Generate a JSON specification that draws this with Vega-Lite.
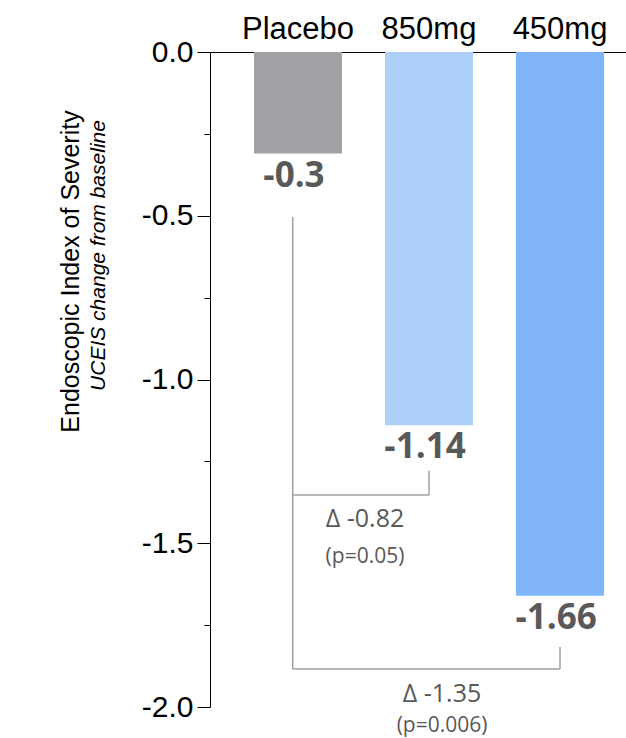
{
  "$schema": "https://vega.github.io/schema/vega-lite/v6.json",
  "autosize": "none",
  "width": 416,
  "height": 655,
  "padding": {"left": 210, "top": 52, "right": 0, "bottom": 31},
  "background": "white",
  "config": {"view": {"stroke": null}},
  "datasets": {
    "bars": [
      {"group": "Placebo", "value": -0.31, "label": "-0.3"},
      {"group": "850mg", "value": -1.14, "label": "-1.14"},
      {"group": "450mg", "value": -1.66, "label": "-1.66"}
    ],
    "hrules": [
      {"group": "Placebo", "to": "850mg", "y": -1.353},
      {"group": "Placebo", "to": "450mg", "y": -1.884}
    ],
    "lrule": [
      {"group": "Placebo", "y1": -0.504, "y2": -1.884}
    ],
    "rrules": [
      {"group": "850mg", "y1": -1.279, "y2": -1.353},
      {"group": "450mg", "y1": -1.817, "y2": -1.884}
    ],
    "ann1": [
      {"group": "Placebo", "text": "Δ -0.82", "y": -1.426, "size": 25},
      {"group": "Placebo", "text": "(p=0.05)", "y": -1.542, "size": 21}
    ],
    "ann2": [
      {"group": "850mg", "text": "Δ -1.35", "y": -1.96, "size": 25},
      {"group": "850mg", "text": "(p=0.006)", "y": -2.058, "size": 21}
    ]
  },
  "encoding": {
    "x": {
      "field": "group", "type": "nominal",
      "scale": {"domain": ["Placebo", "850mg", "450mg"], "paddingInner": 0.328, "paddingOuter": 0.2517, "align": 0.667},
      "axis": {
        "orient": "top", "title": null, "labelAngle": 0,
        "labelFont": "Liberation Sans", "labelFontSize": 31, "labelColor": "black",
        "ticks": false, "labelPadding": 7,
        "domainColor": "black", "domainWidth": 1
      }
    }
  },
  "resolve": {"scale": {"y": "independent"}},
  "layer": [
    {
      "data": {"name": "bars"},
      "mark": {"type": "bar"},
      "encoding": {
        "y": {
          "field": "value", "type": "quantitative",
          "scale": {"domain": [-2, 0], "nice": false, "zero": false},
          "axis": {
            "values": [0, -0.5, -1, -1.5, -2], "format": ".1f",
            "labelExpr": "replace(datum.label, '−', '-')",
            "labelFont": "Liberation Sans", "labelFontSize": 30, "labelColor": "black",
            "tickSize": 13, "tickColor": "black", "labelPadding": 4,
            "domainColor": "black", "domainWidth": 1, "grid": false,
            "title": "Endoscopic Index of Severity",
            "titleFont": "Liberation Sans", "titleFontSize": 25, "titleFontWeight": "normal", "titleColor": "black",
            "titleAngle": -90, "titleAlign": "center", "titleBaseline": "middle",
            "titleX": -140, "titleY": 219
          }
        },
        "color": {
          "field": "group", "type": "nominal",
          "scale": {"domain": ["Placebo", "850mg", "450mg"], "range": ["#a2a2a6", "#aecff8", "#80b5f9"]},
          "legend": null
        }
      }
    },
    {
      "data": {"name": "bars"},
      "mark": {"type": "text", "font": "Open Sans", "fontWeight": "bold", "fontSize": 35, "color": "#595959", "baseline": "middle", "dy": 22, "dx": -4},
      "encoding": {
        "y": {
          "field": "value", "type": "quantitative",
          "scale": {"domain": [-2, 0], "nice": false, "zero": false},
          "axis": {
            "orient": "left",
            "values": [-0.25, -0.75, -1.25, -1.75],
            "labels": false, "domain": false, "grid": false,
            "tickSize": 6, "tickColor": "black",
            "title": "UCEIS change from baseline",
            "titleFont": "Liberation Sans", "titleFontSize": 21, "titleFontWeight": "normal", "titleFontStyle": "italic", "titleColor": "black",
            "titleAngle": -90, "titleAlign": "center", "titleBaseline": "middle",
            "titleX": -112, "titleY": 203
          }
        },
        "text": {"field": "label"}
      }
    },
    {
      "data": {"name": "hrules"},
      "mark": {"type": "rule", "color": "#a0a0a0", "strokeWidth": 1.5},
      "encoding": {
        "x": {"field": "group", "type": "nominal", "bandPosition": 0.44},
        "x2": {"field": "to", "bandPosition": 0.5},
        "y": {"field": "y", "type": "quantitative", "scale": {"domain": [-2, 0], "nice": false, "zero": false}, "axis": null}
      }
    },
    {
      "data": {"name": "lrule"},
      "mark": {"type": "rule", "color": "#a0a0a0", "strokeWidth": 1.5},
      "encoding": {
        "x": {"field": "group", "type": "nominal", "bandPosition": 0.44},
        "y": {"field": "y1", "type": "quantitative", "scale": {"domain": [-2, 0], "nice": false, "zero": false}, "axis": null},
        "y2": {"field": "y2"}
      }
    },
    {
      "data": {"name": "rrules"},
      "mark": {"type": "rule", "color": "#a0a0a0", "strokeWidth": 1.5},
      "encoding": {
        "y": {"field": "y1", "type": "quantitative", "scale": {"domain": [-2, 0], "nice": false, "zero": false}, "axis": null},
        "y2": {"field": "y2"}
      }
    },
    {
      "data": {"name": "ann1"},
      "mark": {"type": "text", "font": "Open Sans", "color": "#595959", "baseline": "middle"},
      "encoding": {
        "x": {"field": "group", "type": "nominal", "bandPosition": 1.261},
        "y": {"field": "y", "type": "quantitative", "scale": {"domain": [-2, 0], "nice": false, "zero": false}, "axis": null},
        "size": {"field": "size", "type": "quantitative", "scale": null},
        "text": {"field": "text"}
      }
    },
    {
      "data": {"name": "ann2"},
      "mark": {"type": "text", "font": "Open Sans", "color": "#595959", "baseline": "middle"},
      "encoding": {
        "x": {"field": "group", "type": "nominal", "bandPosition": 0.648},
        "y": {"field": "y", "type": "quantitative", "scale": {"domain": [-2, 0], "nice": false, "zero": false}, "axis": null},
        "size": {"field": "size", "type": "quantitative", "scale": null},
        "text": {"field": "text"}
      }
    }
  ]
}
